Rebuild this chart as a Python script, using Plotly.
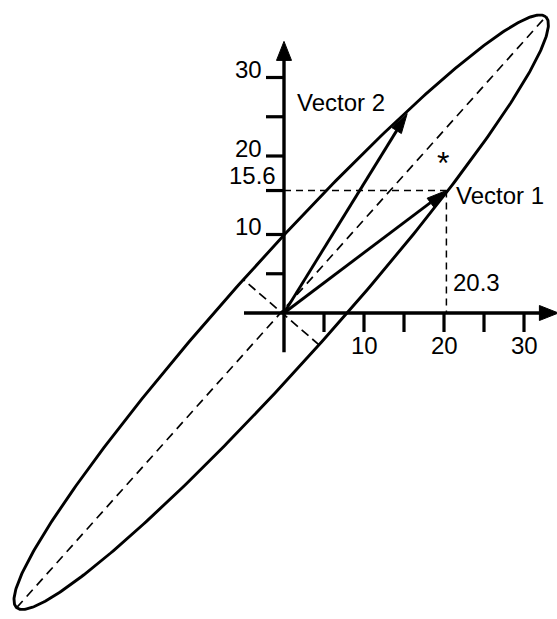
import numpy as np
import plotly.graph_objects as go

# --- geometry of the ellipse (data units) ---
ELL_CENTER = (-0.35, 0.1)
ELL_SEMI_MAJOR = 50.1
ELL_SEMI_MINOR = 6.3
ELL_ANGLE_DEG = 48.7

# --- the two vectors (tips; both start at the origin) ---
VECTOR_1 = (20.3, 15.6)
VECTOR_2 = (15.4, 25.4)

# --- axes ---
X_TICKS = [5, 10, 15, 20, 25, 30]
X_TICK_LABELS = ["", "10", "", "20", "", "30"]
Y_TICKS = [5, 10, 15.6, 20, 25, 30]
Y_TICK_LABELS = ["", "10", "15.6", "20", "", "30"]
AXIS_START = -5
X_AXIS_END = 34.3
Y_AXIS_END = 34.6

STAR_POS = (19.9, 20.1)

# pixel scale of the canvas
W, H = 557, 619
PX_X = 8.0    # pixels per unit, x
PX_Y = 7.85   # pixels per unit, y
ORIGIN_PX = (284, 313)
X_RANGE = [-ORIGIN_PX[0] / PX_X, (W - ORIGIN_PX[0]) / PX_X]
Y_RANGE = [-(H - ORIGIN_PX[1]) / PX_Y, ORIGIN_PX[1] / PX_Y]

FONT = dict(family="Liberation Sans, Arial, sans-serif", size=24, color="black")
INK = "black"


def arrow_head(tip, start, length_px, width_px):
    """Filled triangular head at `tip`, pointing away from `start`."""
    tx, ty = tip[0] * PX_X, tip[1] * PX_Y
    sx, sy = start[0] * PX_X, start[1] * PX_Y
    dx, dy = tx - sx, ty - sy
    n = np.hypot(dx, dy)
    ux, uy = dx / n, dy / n
    px, py = -uy, ux
    bx, by = tx - ux * length_px, ty - uy * length_px
    xs = [tx, bx + px * width_px / 2, bx - px * width_px / 2, tx]
    ys = [ty, by + py * width_px / 2, by - py * width_px / 2, ty]
    return [v / PX_X for v in xs], [v / PX_Y for v in ys]


fig = go.Figure()

# ellipse outline
t = np.linspace(0, 2 * np.pi, 500)
th = np.radians(ELL_ANGLE_DEG)
cx, cy = ELL_CENTER
a, b = ELL_SEMI_MAJOR, ELL_SEMI_MINOR
ex = cx + a * np.cos(t) * np.cos(th) - b * np.sin(t) * np.sin(th)
ey = cy + a * np.cos(t) * np.sin(th) + b * np.sin(t) * np.cos(th)
fig.add_trace(go.Scatter(x=ex, y=ey, mode="lines",
                         line=dict(color=INK, width=2.9)))

# principal axes of the ellipse (dashed)
fig.add_trace(go.Scatter(
    x=[cx - a * np.cos(th), cx + a * np.cos(th)],
    y=[cy - a * np.sin(th), cy + a * np.sin(th)],
    mode="lines", line=dict(color=INK, width=1.7, dash="9px,6px")))
fig.add_trace(go.Scatter(
    x=[cx + b * np.sin(th), cx - b * np.sin(th)],
    y=[cy - b * np.cos(th), cy + b * np.cos(th)],
    mode="lines", line=dict(color=INK, width=1.7, dash="9px,5px")))

# guide lines to the components of vector 1
fig.add_trace(go.Scatter(
    x=[0, VECTOR_1[0], None, VECTOR_1[0], VECTOR_1[0]],
    y=[VECTOR_1[1], VECTOR_1[1], None, VECTOR_1[1], 0],
    mode="lines", line=dict(color=INK, width=1.5, dash="7px,5px")))

# coordinate axes
fig.add_trace(go.Scatter(
    x=[AXIS_START, X_AXIS_END - 1.5, None, 0, 0],
    y=[0, 0, None, AXIS_START, Y_AXIS_END - 1.5],
    mode="lines", line=dict(color=INK, width=3.4)))
for tip, start in [((X_AXIS_END, 0), (0, 0)), ((0, Y_AXIS_END), (0, 0))]:
    hx, hy = arrow_head(tip, start, 19, 15)
    fig.add_trace(go.Scatter(x=hx, y=hy, mode="lines", fill="toself",
                             fillcolor=INK, line=dict(color=INK, width=1)))

# tick marks
tx, ty = [], []
for v in X_TICKS:
    tx += [v, v, None]
    ty += [0, -19 / PX_Y, None]
for v in Y_TICKS:
    tx += [0, -18 / PX_X, None]
    ty += [v, v, None]
fig.add_trace(go.Scatter(x=tx, y=ty, mode="lines",
                         line=dict(color=INK, width=3.2)))

# vectors
for vec in (VECTOR_1, VECTOR_2):
    hx, hy = arrow_head(vec, (0, 0), 20, 11)
    fig.add_trace(go.Scatter(x=[0, (hx[1] + hx[2]) / 2], y=[0, (hy[1] + hy[2]) / 2],
                             mode="lines", line=dict(color=INK, width=2.9)))
    fig.add_trace(go.Scatter(x=hx, y=hy, mode="lines", fill="toself",
                             fillcolor=INK, line=dict(color=INK, width=1)))

annotations = []
for v, lab in zip(X_TICKS, X_TICK_LABELS):
    if lab:
        annotations.append(dict(x=v, y=-32 / PX_Y, text=lab, xanchor="center",
                                yanchor="middle"))
for v, lab in zip(Y_TICKS, Y_TICK_LABELS):
    if not lab:
        continue
    if lab == "15.6":
        annotations.append(dict(x=-6 / PX_X, y=v + 15 / PX_Y, text=lab,
                                xanchor="right", yanchor="middle"))
    else:
        annotations.append(dict(x=-20 / PX_X, y=v + 8 / PX_Y, text=lab,
                                xanchor="right", yanchor="middle"))

annotations += [
    dict(x=1.4, y=26.8, text="Vector 2", xanchor="left", yanchor="middle"),
    dict(x=VECTOR_1[0] + 0.9, y=VECTOR_1[1] - 0.6, text="Vector 1",
         xanchor="left", yanchor="middle"),
    dict(x=VECTOR_1[0] + 0.6, y=3.9, text=f"{VECTOR_1[0]:g}",
         xanchor="left", yanchor="middle"),
    dict(x=STAR_POS[0], y=STAR_POS[1] - 1.0, text="*", xanchor="center",
         yanchor="middle", font=dict(size=32)),
]
for ann in annotations:
    ann.update(xref="x", yref="y", showarrow=False)
    f = dict(FONT)
    f.update(ann.get("font", {}))
    ann["font"] = f

fig.update_layout(
    width=W, height=H,
    margin=dict(l=0, r=0, t=0, b=0),
    paper_bgcolor="white", plot_bgcolor="white",
    showlegend=False,
    xaxis=dict(range=X_RANGE, visible=False, fixedrange=True),
    yaxis=dict(range=Y_RANGE, visible=False, fixedrange=True),
    annotations=annotations,
)

fig.write_html("out.html")
